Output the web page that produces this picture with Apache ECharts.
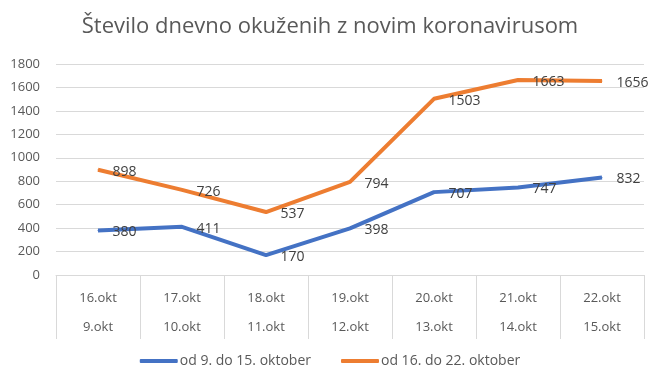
<!DOCTYPE html>
<html>
<head>
<meta charset="utf-8">
<script src="https://cdn.jsdelivr.net/npm/echarts@6/dist/echarts.min.js"></script>
<style>html,body{margin:0;padding:0;background:#fff}#c{width:660px;height:385px}</style>
</head>
<body>
<div id="c"></div>
<script>
const topLabels = ['16.okt','17.okt','18.okt','19.okt','20.okt','21.okt','22.okt'];
const bottomLabels = ['9.okt','10.okt','11.okt','12.okt','13.okt','14.okt','15.okt'];
const seriesBlueName = 'od 9. do 15. oktober';
const seriesOrangeName = 'od 16. do 22. oktober';
const blueValues = [380, 411, 170, 398, 707, 747, 832];
const orangeValues = [898, 726, 537, 794, 1503, 1663, 1656];
const yTicks = [0, 200, 400, 600, 800, 1000, 1200, 1400, 1600, 1800];

const FONT = '"Open Sans", "Noto Sans", sans-serif';
const chart = echarts.init(document.getElementById('c'));
chart.setOption({
  animation: false,
  title: {
    text: 'Število dnevno okuženih z novim koronavirusom',
    left: 'center', top: 11,
    textStyle: { fontFamily: FONT, fontSize: 22, fontWeight: 'normal', color: '#595959' }
  },
  legend: {
    bottom: 12, left: 'center',
    itemWidth: 38, itemHeight: 4, itemGap: 30,
    icon: 'roundRect',
    textStyle: { fontFamily: FONT, fontSize: 14, color: '#595959', padding: [0,0,0,-3] },
    data: [seriesBlueName, seriesOrangeName]
  },
  grid: { left: 56, right: 16, top: 64, bottom: 110 },
  xAxis: {
    type: 'category',
    data: topLabels.map((t, i) => t + '\n' + bottomLabels[i]),
    boundaryGap: true,
    axisLine: { lineStyle: { color: '#d9d9d9', width: 1 } },
    axisTick: { show: true, length: 64, lineStyle: { color: '#d9d9d9' } },
    axisLabel: { fontFamily: FONT, fontSize: 13, color: '#595959', lineHeight: 29, margin: 9, interval: 0 }
  },
  yAxis: {
    type: 'value', min: 0, max: yTicks[yTicks.length - 1], interval: 200,
    axisLine: { show: false }, axisTick: { show: false },
    axisLabel: { fontFamily: FONT, fontSize: 13, color: '#595959', margin: 16, formatter: v => String(v) },
    splitLine: { lineStyle: { color: '#d9d9d9', width: 1 } }
  },
  series: [
    {
      name: seriesBlueName, type: 'line', data: blueValues,
      showSymbol: true, symbol: 'circle', symbolSize: 1,
      lineStyle: { color: '#4472C4', width: 4 }, itemStyle: { color: '#4472C4' },
      label: { show: true, position: 'right', distance: 14, offset: [0, 2], fontFamily: FONT, fontSize: 14, color: '#404040' }
    },
    {
      name: seriesOrangeName, type: 'line', data: orangeValues,
      showSymbol: true, symbol: 'circle', symbolSize: 1,
      lineStyle: { color: '#ED7D31', width: 4 }, itemStyle: { color: '#ED7D31' },
      label: { show: true, position: 'right', distance: 14, offset: [0, 2], fontFamily: FONT, fontSize: 14, color: '#404040' }
    }
  ]
});
</script>
</body>
</html>
